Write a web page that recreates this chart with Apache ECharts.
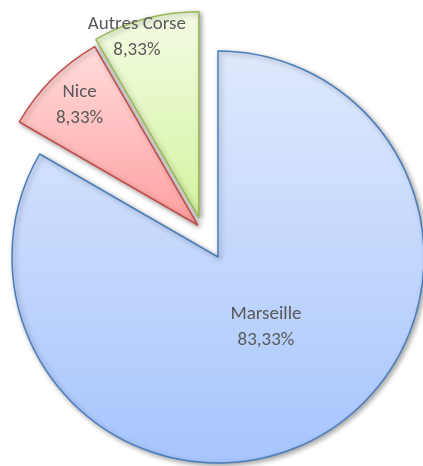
<!DOCTYPE html>
<html>
<head>
<meta charset="utf-8">
<style>
html,body{margin:0;padding:0;background:#fff;}
#chart{width:423px;height:466px;}
</style>
<script src="https://cdn.jsdelivr.net/npm/echarts@6/dist/echarts.min.js"></script>
</head>
<body>
<div id="chart"></div>
<script>
// ---- data ----
var categories = ['Marseille', 'Nice', 'Autres Corse'];
var values = [10, 1, 1];

// ---- styles ----
var baseCenter = [202, 229.3];
var radius = 206;
var explode = [32, 6.1, 12];            // explosion distance per slice (px)
var labelFrac = [0.413, 0.815, 0.925];  // label distance from slice tip / radius
var labelAngleShift = [4.3, -0.3, 4];   // degrees
var fillTop = ['#dfe9fc', '#ffdcdc', '#f3fbe4'];
var fillBottom = ['#a7c5fd', '#ffa0a0', '#d5f4a0'];
var borderColors = ['#4a7ebb', '#c0504d', '#98b954'];

var total = values.reduce(function (a, b) { return a + b; }, 0);
var startAngle = 90;
var midAngles = [];
var cum = 0;
values.forEach(function (v) {
  midAngles.push(startAngle - (cum + v / 2) / total * 360);
  cum += v;
});

function pct(v) {
  return (v / total * 100).toFixed(2).replace('.', ',') + '%';
}

var series = categories.map(function (name, k) {
  var a = midAngles[k] * Math.PI / 180;
  var cx = baseCenter[0] + explode[k] * Math.cos(a);
  var cy = baseCenter[1] - explode[k] * Math.sin(a);
  var la = (midAngles[k] + labelAngleShift[k]) * Math.PI / 180;
  var lx = cx + labelFrac[k] * radius * Math.cos(la);
  var ly = cy - labelFrac[k] * radius * Math.sin(la);
  return {
    type: 'pie',
    center: [cx, cy],
    radius: [0, radius],
    startAngle: startAngle,
    clockwise: true,
    silent: true,
    animation: false,
    avoidLabelOverlap: false,
    emphasis: { disabled: true },
    labelLine: { show: false },
    labelLayout: function (params) {
      if (params.dataIndex !== k) return {};
      return { x: lx, y: ly, align: 'center', verticalAlign: 'middle' };
    },
    data: categories.map(function (n, i) {
      var own = i === k;
      return {
        name: n,
        value: values[i],
        itemStyle: own ? {
          color: new echarts.graphic.LinearGradient(0, 0, 0, 1, [
            { offset: 0, color: fillTop[i] },
            { offset: 1, color: fillBottom[i] }
          ]),
          borderColor: borderColors[i],
          borderWidth: 1.5,
          shadowColor: 'rgba(0,0,0,0.35)',
          shadowBlur: 5,
          shadowOffsetX: 2,
          shadowOffsetY: 2
        } : {
          color: 'rgba(0,0,0,0)',
          borderWidth: 0
        },
        label: own ? {
          show: true,
          position: 'inside',
          formatter: n + '\n' + pct(values[i]),
          color: '#595959',
          fontFamily: 'Carlito, Lato, sans-serif',
          fontSize: 19,
          lineHeight: 26,
          align: 'center'
        } : { show: false }
      };
    })
  };
});

var chart = echarts.init(document.getElementById('chart'), null, { renderer: 'canvas' });
chart.setOption({
  backgroundColor: '#ffffff',
  series: series
});
</script>
</body>
</html>
